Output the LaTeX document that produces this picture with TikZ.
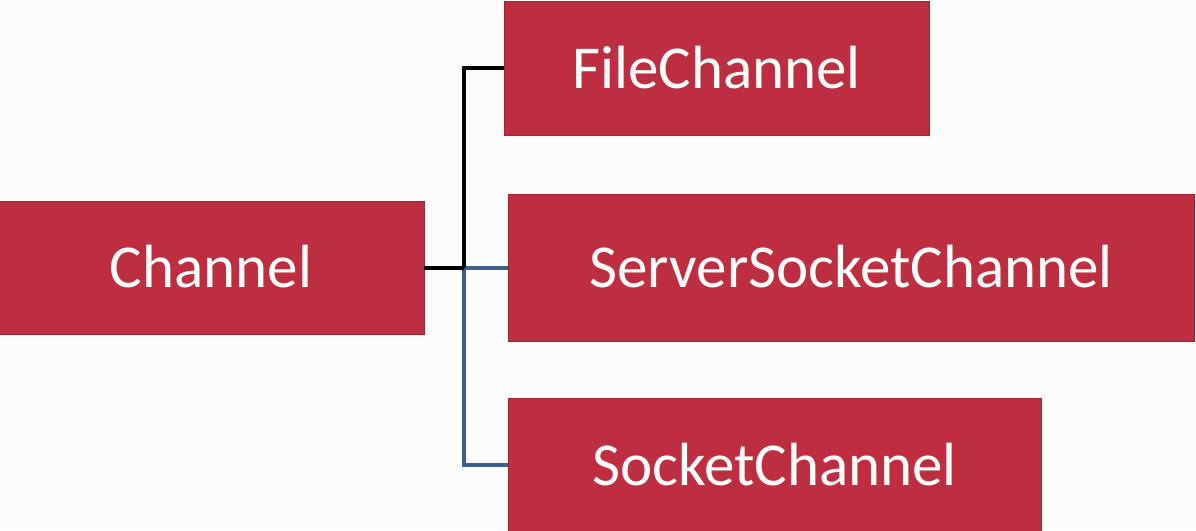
\documentclass[tikz,border=0pt]{standalone}
\usepackage{fontspec}
\setmainfont{Carlito}
\definecolor{boxred}{HTML}{BD2F40}
\definecolor{boxedge}{HTML}{9E2434}
\definecolor{busblue}{HTML}{3A5F8F}
\definecolor{bg}{HTML}{FCFCFC}
\tikzset{
  chbox/.style={fill=boxred, draw=boxedge, line width=0.8pt, inner sep=0pt,
    text=white, font=\fontsize{61}{70}\selectfont, align=center},
  busblack/.style={draw=black, line width=4pt},
  busblu/.style={draw=busblue, line width=4pt},
}
\begin{document}
\begin{tikzpicture}[x=1pt,y=-1pt]
\fill[bg] (0,0) rectangle (1196,530);
\useasboundingbox (0,0) rectangle (1196,530);
\begin{scope}
\clip (0,0) rectangle (1196,530);
\node[chbox, minimum width=426pt, minimum height=133pt] (ch) at (211,267.5) {\raisebox{2pt}{Channel}};
\node[chbox, minimum width=425pt, minimum height=134pt] (fc) at (716.5,68) {\raisebox{2pt}{FileChannel}};
\node[chbox, minimum width=686pt, minimum height=147pt] (ssc) at (851,267.5) {\raisebox{2pt}{ServerSocketChannel}};
\node[chbox, minimum width=533pt, minimum height=134pt] (sc) at (774.5,465) {\raisebox{2pt}{SocketChannel}};
\coordinate (j) at (464,267.5);
\draw[busblu] (j) -- (j -| ssc.west);
\draw[busblu] (j) |- (sc.west);
\draw[busblack] (j) |- (fc.west);
\draw[busblack] (ch.east) -- (j);
\end{scope}
\end{tikzpicture}
\end{document}
